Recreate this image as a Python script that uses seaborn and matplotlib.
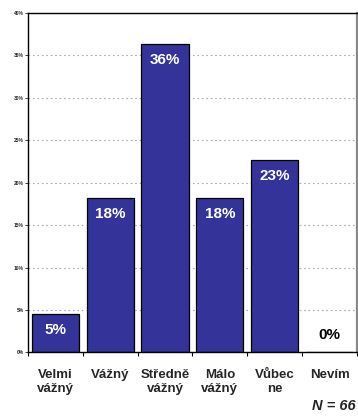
import numpy as np
import pandas as pd
import seaborn as sns
import matplotlib.pyplot as plt
from matplotlib.ticker import PercentFormatter

categories = ['Velmi\nvážný', 'Vážný', 'Středně\nvážný', 'Málo\nvážný', 'Vůbec\nne', 'Nevím']
values = [4.5, 18.2, 36.4, 18.2, 22.7, 0.0]
labels = ['5%', '18%', '36%', '18%', '23%', '0%']
yticks = [0, 5, 10, 15, 20, 25, 30, 35, 40]

sns.set_style('white')
plt.rcParams['font.family'] = ['Liberation Sans', 'DejaVu Sans']

df = pd.DataFrame({'cat': categories, 'val': values})

fig = plt.figure(figsize=(3.58, 4.18), dpi=100)
ax = fig.add_axes([0.078, 0.157, 0.919, 0.812])
sns.barplot(data=df, x='cat', y='val', color='#333399', saturation=1, width=0.86,
            edgecolor='black', linewidth=0.9, ax=ax)

ax.set_ylim(0, 40)
ax.set_xlim(-0.5, 5.5)
ax.set_yticks(yticks)
ax.yaxis.set_major_formatter(PercentFormatter(decimals=0))
ax.set_xticks(np.arange(len(categories)))
ax.set_xticklabels(categories, fontsize=9.5, fontweight='bold', linespacing=1.25)
ax.set_xlabel('')
ax.set_ylabel('')
for t in ax.get_yticklabels():
    t.set_fontsize(3.5)
    t.set_fontweight('bold')

# boundary ticks on x axis
ax.set_xticks(np.arange(len(categories) + 1) - 0.5, minor=True)
ax.tick_params(axis='x', which='major', length=0, pad=12)
ax.tick_params(axis='x', which='minor', length=3, width=0.8, direction='out', color='black', bottom=True)
ax.tick_params(axis='y', length=2, width=0.6, direction='out', pad=1, left=True)

for y in yticks[1:-1]:
    ax.axhline(y, color='#aaaaaa', linestyle=(0, (1.5, 2.5)), linewidth=0.8, zorder=0)

for s in ['left', 'bottom', 'top']:
    ax.spines[s].set_color('black')
    ax.spines[s].set_linewidth(1)
ax.spines['right'].set_color('#888888')
ax.spines['right'].set_linewidth(1.6)

for i, (v, lab) in enumerate(zip(values, labels)):
    if v > 2:
        ax.annotate(lab, (i, v), xytext=(0, -16), textcoords='offset pixels',
                    ha='center', va='center', color='white', fontsize=11, fontweight='bold')
    else:
        ax.annotate(lab, (i, v), xytext=(0, 17), textcoords='offset pixels',
                    ha='center', va='center', color='black', fontsize=11, fontweight='bold')

fig.text(0.993, 0.028, 'N = 66', ha='right', va='center', fontsize=10.5,
         fontweight='bold', fontstyle='italic')

fig.savefig('out.png', dpi=100)
